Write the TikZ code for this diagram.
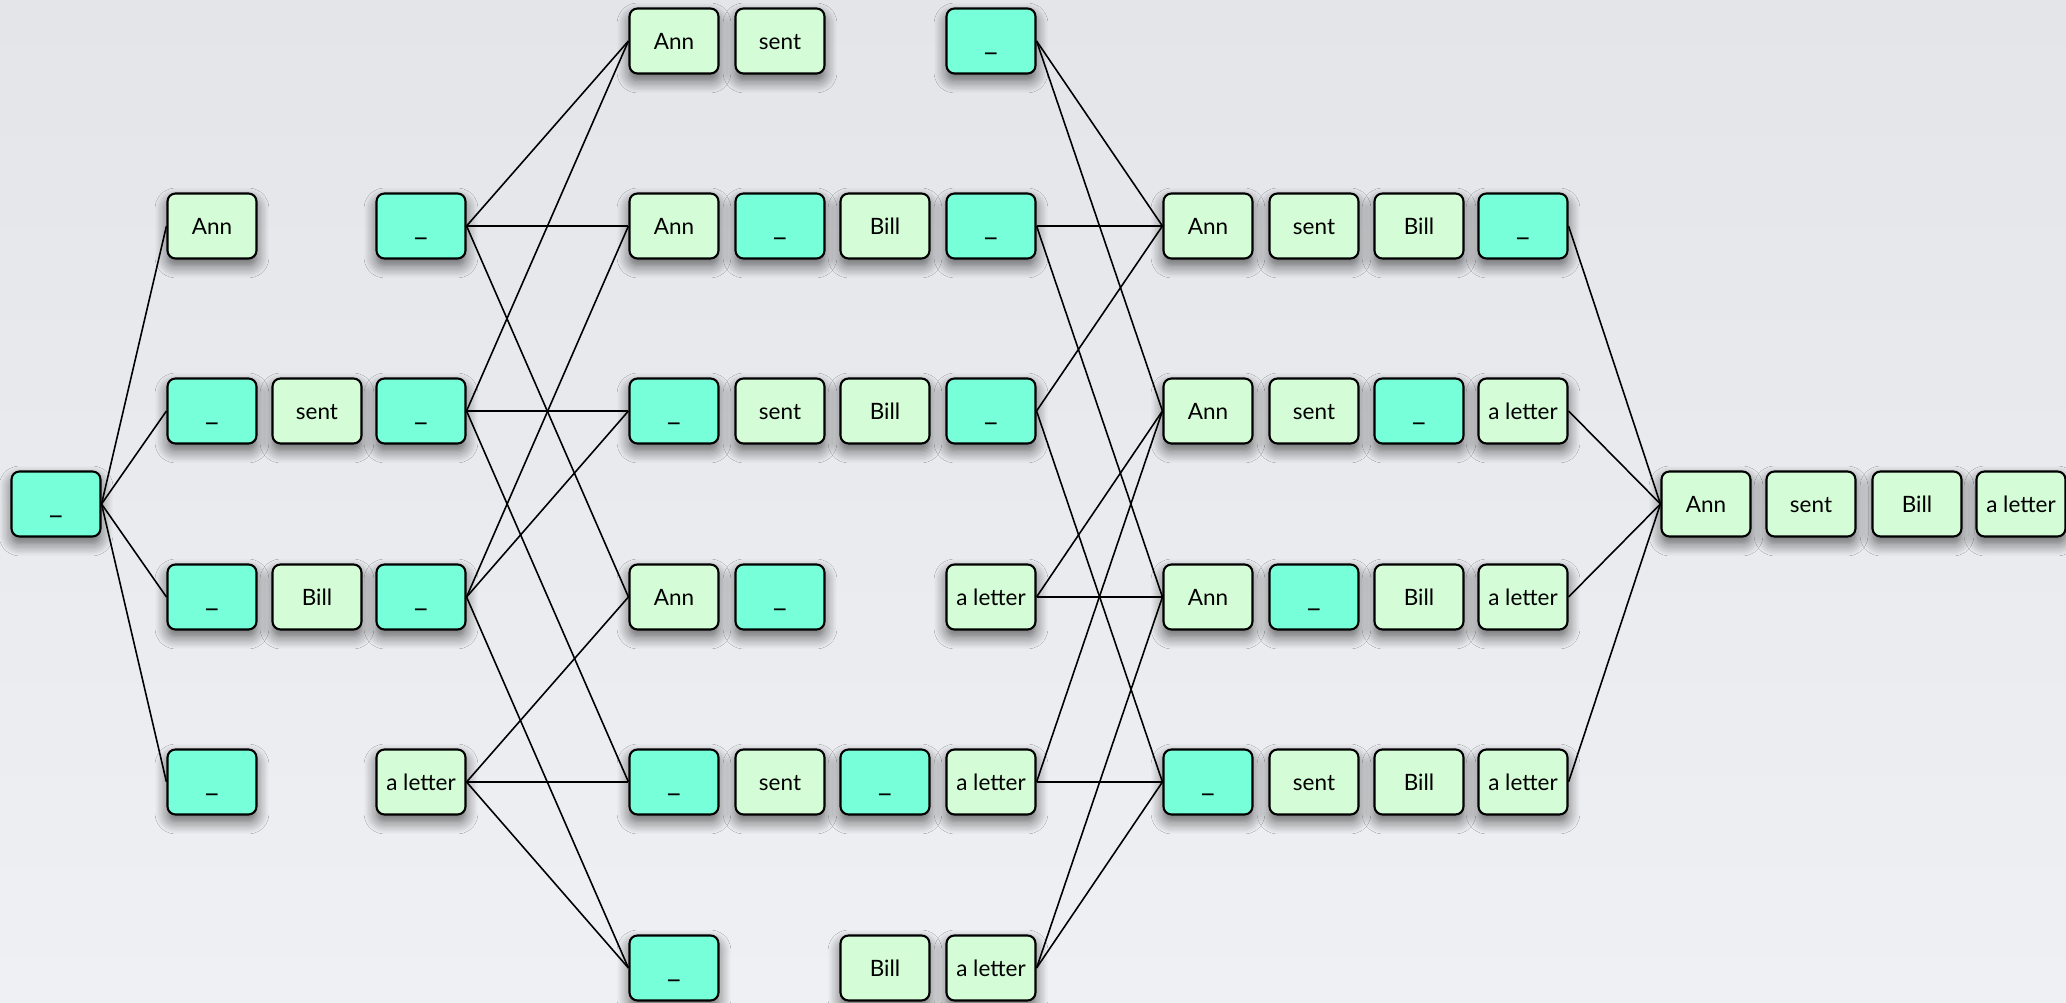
\documentclass[tikz,border=0pt]{standalone}
\usepackage{fontspec}
\setmainfont{Lato}
\usetikzlibrary{shadows.blur}

\definecolor{wordfill}{HTML}{D4FCD6}
\definecolor{holefill}{HTML}{76FFD8}
\definecolor{bgtop}{HTML}{E3E5E9}
\definecolor{bgbottom}{HTML}{EFF0F3}

\tikzset{
  tile/.style={draw=black, line width=0.6pt, rounded corners=0.08cm,
    minimum width=0.89cm, minimum height=0.65cm, inner sep=0pt,
    font=\fontsize{6.4}{7}\selectfont, text height=4.6pt, text depth=0pt,
    blur shadow={shadow xshift=0pt, shadow yshift=-0.07cm,
      shadow blur radius=0.7ex, shadow blur steps=10, shadow opacity=60}},
  wordbox/.style={tile, fill=wordfill},
  holebox/.style={tile, fill=holefill, font=\fontsize{8.4}{9}\selectfont,
    text height=5.6pt},
  link/.style={line width=0.45pt}
}

\begin{document}
\begin{tikzpicture}

    % Background and picture size
    \useasboundingbox (0,0) rectangle (20.66,-10.03);
    \shade[top color=bgtop, bottom color=bgbottom] (0,0) rectangle (20.66,-10.03);

    % Start
    \node[holebox] (m0) at (0.56,-5.04) {\_};

    % First split
    \node[wordbox] (r1c1) at (2.12,-2.26) {Ann};
    \node[holebox] (r1c3) at (4.21,-2.26) {\_};
    \node[holebox] (r2c1) at (2.12,-4.11) {\_};
    \node[wordbox] (r2c2) at (3.17,-4.11) {sent};
    \node[holebox] (r2c3) at (4.21,-4.11) {\_};
    \node[holebox] (r3c1) at (2.12,-5.97) {\_};
    \node[wordbox] (r3c2) at (3.17,-5.97) {Bill};
    \node[holebox] (r3c3) at (4.21,-5.97) {\_};
    \node[holebox] (r4c1) at (2.12,-7.82) {\_};
    \node[wordbox] (r4c3) at (4.21,-7.82) {a letter};

    % Pairs of words
    \node[wordbox] (r0c4) at (6.74,-0.41) {Ann};
    \node[wordbox] (r0c5) at (7.80,-0.41) {sent};
    \node[holebox] (r0c7) at (9.91,-0.41) {\_};
    \node[wordbox] (r1c4) at (6.74,-2.26) {Ann};
    \node[holebox] (r1c5) at (7.80,-2.26) {\_};
    \node[wordbox] (r1c6) at (8.85,-2.26) {Bill};
    \node[holebox] (r1c7) at (9.91,-2.26) {\_};
    \node[holebox] (r2c4) at (6.74,-4.11) {\_};
    \node[wordbox] (r2c5) at (7.80,-4.11) {sent};
    \node[wordbox] (r2c6) at (8.85,-4.11) {Bill};
    \node[holebox] (r2c7) at (9.91,-4.11) {\_};
    \node[wordbox] (r3c4) at (6.74,-5.97) {Ann};
    \node[holebox] (r3c5) at (7.80,-5.97) {\_};
    \node[wordbox] (r3c7) at (9.91,-5.97) {a letter};
    \node[holebox] (r4c4) at (6.74,-7.82) {\_};
    \node[wordbox] (r4c5) at (7.80,-7.82) {sent};
    \node[holebox] (r4c6) at (8.85,-7.82) {\_};
    \node[wordbox] (r4c7) at (9.91,-7.82) {a letter};
    \node[holebox] (r5c4) at (6.74,-9.68) {\_};
    \node[wordbox] (r5c6) at (8.85,-9.68) {Bill};
    \node[wordbox] (r5c7) at (9.91,-9.68) {a letter};

    % Three words
    \node[wordbox] (r1c8) at (12.08,-2.26) {Ann};
    \node[wordbox] (r1c9) at (13.14,-2.26) {sent};
    \node[wordbox] (r1c10) at (14.19,-2.26) {Bill};
    \node[holebox] (r1c11) at (15.23,-2.26) {\_};
    \node[wordbox] (r2c8) at (12.08,-4.11) {Ann};
    \node[wordbox] (r2c9) at (13.14,-4.11) {sent};
    \node[holebox] (r2c10) at (14.19,-4.11) {\_};
    \node[wordbox] (r2c11) at (15.23,-4.11) {a letter};
    \node[wordbox] (r3c8) at (12.08,-5.97) {Ann};
    \node[holebox] (r3c9) at (13.14,-5.97) {\_};
    \node[wordbox] (r3c10) at (14.19,-5.97) {Bill};
    \node[wordbox] (r3c11) at (15.23,-5.97) {a letter};
    \node[holebox] (r4c8) at (12.08,-7.82) {\_};
    \node[wordbox] (r4c9) at (13.14,-7.82) {sent};
    \node[wordbox] (r4c10) at (14.19,-7.82) {Bill};
    \node[wordbox] (r4c11) at (15.23,-7.82) {a letter};

    % Whole sentence
    \node[wordbox] (m12) at (17.06,-5.04) {Ann};
    \node[wordbox] (m13) at (18.11,-5.04) {sent};
    \node[wordbox] (m14) at (19.17,-5.04) {Bill};
    \node[wordbox] (m15) at (20.21,-5.04) {a letter};

    % Links
    \foreach \r in {1,2,3,4}
        \draw[link] (m0.east) -- (r\r c1.west);
    \foreach \a/\b in {1/0,1/1,1/3, 2/0,2/2,2/4, 3/1,3/2,3/5, 4/3,4/4,4/5}
        \draw[link] (r\a c3.east) -- (r\b c4.west);
    \foreach \a/\b in {0/1,0/2, 1/1,1/3, 2/1,2/4, 3/2,3/3, 4/2,4/4, 5/3,5/4}
        \draw[link] (r\a c7.east) -- (r\b c8.west);
    \foreach \r in {1,2,3,4}
        \draw[link] (r\r c11.east) -- (m12.west);

\end{tikzpicture}
\end{document}
